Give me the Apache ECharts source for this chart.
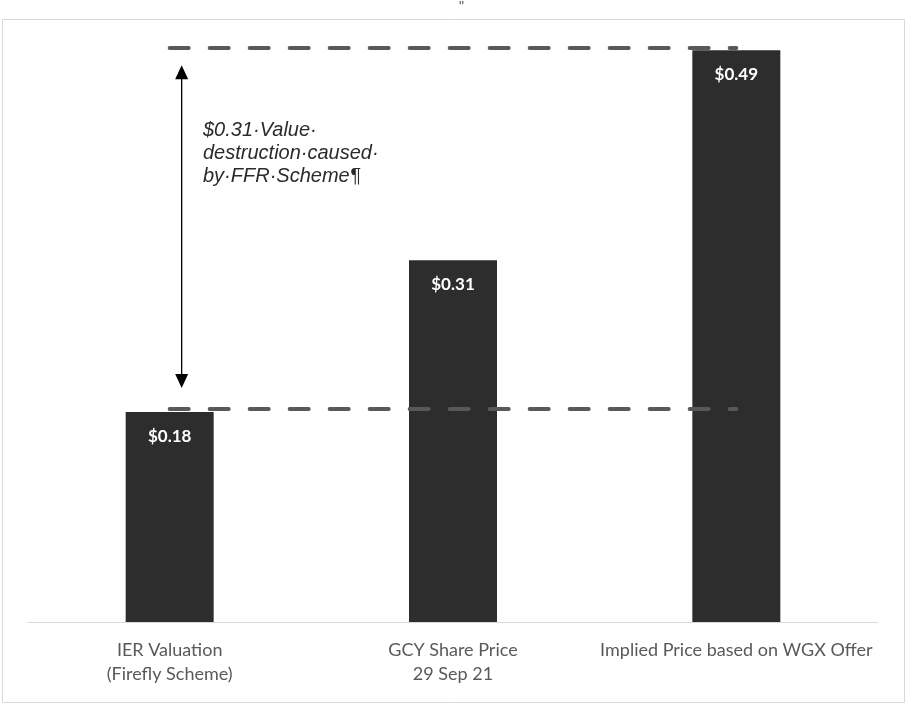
<!DOCTYPE html>
<html>
<head>
<meta charset="utf-8">
<script src="https://cdn.jsdelivr.net/npm/echarts@6/dist/echarts.min.js"></script>
<style>
  html, body { margin: 0; padding: 0; background: #ffffff; }
  #chart { width: 906px; height: 704px; }
</style>
</head>
<body>
<div id="chart"></div>
<script>
const categories = ['IER Valuation\n(Firefly Scheme)', 'GCY Share Price\n29 Sep 21', 'Implied Price based on WGX Offer'];
const values = [0.18, 0.31, 0.49];
const valueLabels = ['$0.18', '$0.31', '$0.49'];
const refLevels = [0.492, 0.183];
const arrowRange = [0.477, 0.2005];
const annotationText = '$0.31·Value·\ndestruction·caused·\nby·FFR·Scheme¶';

const chart = echarts.init(document.getElementById('chart'));

const option = {
  backgroundColor: '#ffffff',
  animation: false,
  grid: { left: 28, right: 28, top: 38.5, bottom: 82 },
  xAxis: {
    type: 'category',
    data: categories,
    axisLine: { show: true, lineStyle: { color: '#d9d9d9', width: 1 } },
    axisTick: { show: false },
    axisLabel: {
      color: '#595959',
      fontFamily: 'Lato',
      fontSize: 18,
      lineHeight: 24,
      margin: 16,
      interval: 0
    }
  },
  yAxis: {
    type: 'value',
    min: 0,
    max: 0.5,
    show: false,
    splitLine: { show: false }
  },
  series: [{
    type: 'bar',
    data: values,
    barWidth: 88,
    itemStyle: { color: '#2d2d2d' },
    label: {
      show: true,
      position: 'insideTop',
      distance: 16,
      color: '#ffffff',
      fontFamily: 'Lato',
      fontWeight: 'bold',
      fontSize: 17,
      formatter: p => valueLabels[p.dataIndex]
    },
    markLine: {
      silent: true,
      symbol: ['none', 'none'],
      label: { show: false },
      lineStyle: { color: '#595959', width: 4, type: [19, 21], cap: 'round' },
      data: refLevels.map(v => [
        { coord: [categories[0], v] },
        { coord: [categories[2], v] }
      ])
    }
  }],
  graphic: []
};

chart.setOption(option);

const pTop = chart.convertToPixel({ xAxisIndex: 0, yAxisIndex: 0 }, [0, arrowRange[0]]);
const pBot = chart.convertToPixel({ xAxisIndex: 0, yAxisIndex: 0 }, [0, arrowRange[1]]);
const ax = pTop[0] + 12;
const headL = 14, headW = 13;

chart.setOption({
  graphic: [
    {
      type: 'rect',
      shape: { x: 2.5, y: 19.5, width: 902, height: 683 },
      style: { fill: 'none', stroke: '#d9d9d9', lineWidth: 1 },
      silent: true
    },
    {
      type: 'text',
      left: 459, top: 0,
      style: { text: '"', fill: '#595959', font: '14px Liberation Sans' }
    },
    {
      type: 'line',
      shape: { x1: ax, y1: pTop[1] + headL - 1, x2: ax, y2: pBot[1] - headL + 1 },
      style: { stroke: '#000000', lineWidth: 1.3 }
    },
    {
      type: 'polygon',
      shape: { points: [[ax, pTop[1]], [ax - headW / 2, pTop[1] + headL], [ax + headW / 2, pTop[1] + headL]] },
      style: { fill: '#000000' }
    },
    {
      type: 'polygon',
      shape: { points: [[ax, pBot[1]], [ax - headW / 2, pBot[1] - headL], [ax + headW / 2, pBot[1] - headL]] },
      style: { fill: '#000000' }
    },
    {
      type: 'text',
      left: 203, top: 119,
      style: {
        text: annotationText,
        fill: '#2b2b2b',
        font: 'italic 20px "Liberation Sans"',
        lineHeight: 23
      }
    }
  ]
});
</script>
</body>
</html>
